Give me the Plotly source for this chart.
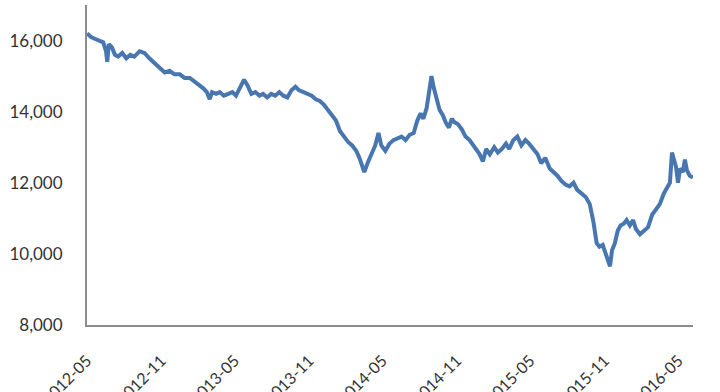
import plotly.graph_objects as go

dates = [
"2012-05-01","2012-05-11","2012-05-20","2012-05-30","2012-06-10","2012-06-17","2012-06-20","2012-06-24",
"2012-07-02","2012-07-09","2012-07-17","2012-07-27","2012-08-06","2012-08-16","2012-08-26","2012-09-08",
"2012-09-20","2012-10-02","2012-10-15","2012-10-27","2012-11-09","2012-11-21","2012-12-03","2012-12-16",
"2012-12-28","2013-01-10","2013-01-22","2013-02-03","2013-02-13","2013-02-21","2013-02-28","2013-03-06",
"2013-03-16","2013-03-25","2013-04-04","2013-04-15","2013-04-25","2013-05-04","2013-05-14","2013-05-24",
"2013-06-01","2013-06-11","2013-06-21","2013-07-01","2013-07-10","2013-07-20","2013-07-30","2013-08-09",
"2013-08-19","2013-08-29","2013-09-08","2013-09-18","2013-09-28","2013-10-07","2013-10-18","2013-10-28",
"2013-11-07","2013-11-17","2013-11-27","2013-12-07","2013-12-17","2013-12-27","2014-01-06","2014-01-16",
"2014-01-26","2014-02-05","2014-02-15","2014-02-25","2014-03-05","2014-03-12","2014-03-17","2014-03-25",
"2014-04-04","2014-04-13","2014-04-21","2014-04-28","2014-05-08","2014-05-18","2014-05-28","2014-06-07",
"2014-06-17","2014-06-27","2014-07-07","2014-07-17","2014-07-26","2014-08-03","2014-08-10","2014-08-18",
"2014-08-25","2014-08-30","2014-09-04","2014-09-12","2014-09-19","2014-09-27","2014-10-04","2014-10-12",
"2014-10-19","2014-10-26","2014-11-03","2014-11-13","2014-11-22","2014-12-02","2014-12-12","2014-12-19",
"2014-12-27","2015-01-04","2015-01-12","2015-01-21","2015-02-01","2015-02-10","2015-02-20","2015-03-02",
"2015-03-10","2015-03-20","2015-03-30","2015-04-09","2015-04-19","2015-04-28","2015-05-09","2015-05-19",
"2015-05-28","2015-06-07","2015-06-18","2015-06-28","2015-07-07","2015-07-17","2015-07-27","2015-08-06",
"2015-08-16","2015-08-25","2015-09-05","2015-09-15","2015-09-25","2015-10-04","2015-10-12","2015-10-19",
"2015-10-27","2015-11-03","2015-11-09","2015-11-14","2015-11-19","2015-11-26","2015-12-03","2015-12-10",
"2015-12-18","2015-12-25","2016-01-02","2016-01-10","2016-01-17","2016-01-27","2016-02-06","2016-02-16",
"2016-02-26","2016-03-07","2016-03-16","2016-03-26","2016-04-03","2016-04-10","2016-04-15","2016-04-19",
"2016-04-25","2016-04-30","2016-05-05","2016-05-12","2016-05-17","2016-05-22","2016-05-29","2016-06-06",
]

values = [
16200,16100,16050,16000,15950,15700,15400,15900,
15800,15600,15550,15650,15500,15600,15550,15700,
15650,15500,15350,15250,15100,15150,15050,15050,
14950,14950,14850,14750,14650,14550,14350,14550,
14500,14550,14450,14500,14550,14450,14700,14900,
14750,14500,14550,14450,14500,14400,14500,14450,
14550,14450,14400,14600,14700,14600,14550,14500,
14450,14350,14300,14200,14050,13900,13750,13450,
13300,13150,13050,12900,12700,12450,12300,12550,
12800,13050,13400,13050,12900,13100,13200,13250,
13300,13200,13350,13400,13750,13950,13800,14100,
14600,15000,14700,14350,14050,13900,13700,13550,
13800,13700,13650,13500,13300,13200,13050,12900,
12800,12600,12950,12800,13000,12850,12950,13100,
12950,13200,13300,13050,13200,13100,12950,12800,
12550,12700,12400,12300,12200,12050,11950,11900,
12000,11800,11700,11600,11400,10900,10300,10200,
10250,10000,9800,9650,10100,10300,10650,10800,
10850,10950,10800,10950,10700,10550,10650,10750,
11100,11250,11400,11700,11850,12000,12850,12700,
12450,12000,12400,12300,12650,12350,12200,12150,
]

y_ticks = [8000, 10000, 12000, 14000, 16000]

fig = go.Figure()
fig.add_trace(go.Scatter(
    x=dates, y=values, mode="lines",
    line=dict(color="#4776b0", width=4),
    showlegend=False,
))

fig.update_layout(
    width=720, height=392,
    margin=dict(l=87, r=27, t=5, b=67),
    paper_bgcolor="white", plot_bgcolor="white",
    font=dict(family="Lato, Open Sans, sans-serif", size=15, color="#333333"),
)
fig.update_xaxes(
    type="date",
    range=["2012-05-01", "2016-06-06"],
    tick0="2012-05-01", dtick="M6", tickformat="%Y-%m",
    tickangle=-45, tickfont=dict(size=16),
    showgrid=False, zeroline=False,
    showline=True, linecolor="#8c8c8c", linewidth=2,
    ticks="", ticklabelstandoff=18, automargin=False,
)
fig.update_yaxes(
    range=[8000, 17000],
    tickvals=y_ticks, tickformat=",d",
    tickfont=dict(size=17),
    showgrid=False, zeroline=False,
    showline=True, linecolor="#8c8c8c", linewidth=2,
    ticks="", ticklabelstandoff=19, automargin=False,
)

fig.write_html("out.html")
